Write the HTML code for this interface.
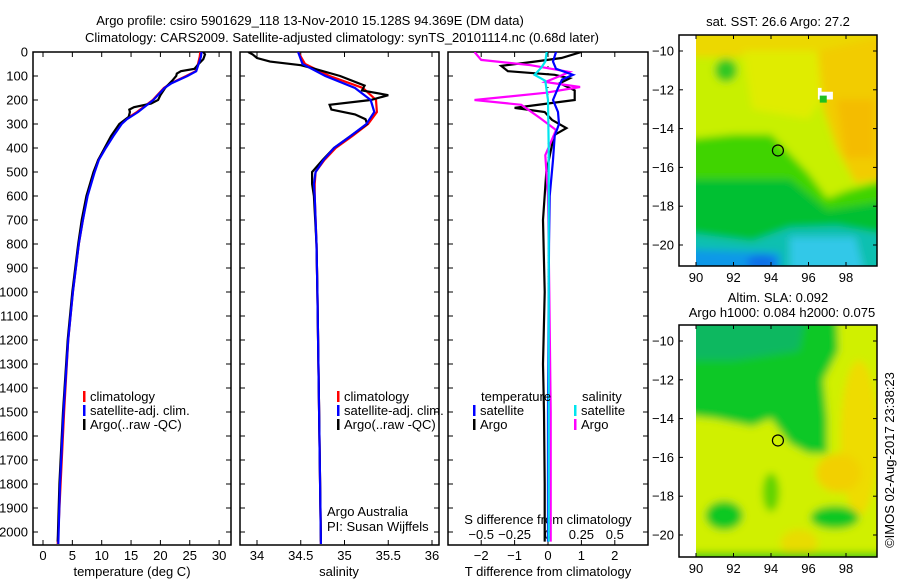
<!DOCTYPE html>
<html><head><meta charset="utf-8"><style>
body{margin:0;background:#fff;}
svg{display:block;font-family:"Liberation Sans",sans-serif;}
text{font-size:13px;fill:#000;}
</style></head><body>
<svg id="c" width="900" height="580" viewBox="0 0 900 580">
<defs>
<clipPath id="cp1"><rect x="33" y="52" width="198" height="493"/></clipPath>
<clipPath id="cp2"><rect x="240" y="52" width="199" height="493"/></clipPath>
<clipPath id="cp3"><rect x="448" y="52" width="200" height="493"/></clipPath>
<clipPath id="m1c"><rect x="696" y="35" width="181" height="231"/></clipPath>
<clipPath id="m2c"><rect x="696" y="325" width="181" height="232"/></clipPath>
<filter id="bl" x="-20%" y="-20%" width="140%" height="140%"><feGaussianBlur stdDeviation="4"/></filter>
</defs>
<text x="310" y="25" text-anchor="middle">Argo profile: csiro 5901629_118 13-Nov-2010 15.128S 94.369E (DM data)</text>
<text x="342" y="42" text-anchor="middle">Climatology: CARS2009. Satellite-adjusted climatology: synTS_20101114.nc (0.68d later)</text>
<g id="axes"></g>
<g id="maps"></g>
</svg>
<script>
// ---- data ----
const tempClimDepth=[0,20,50,80,100,130,150,200,250,280,300,350,400,450,500,600,700,800,1000,1200,1500,1800,2050];
const tempClim=[26.8,26.7,26.4,26.0,24.4,21.8,20.6,18.7,16.0,14.1,13.3,11.8,10.6,9.4,8.7,7.5,6.8,6.1,5.1,4.3,3.6,3.0,2.5];
const tempSat=[27.0,26.9,26.5,26.1,24.6,21.9,20.7,18.8,16.2,14.3,13.4,12.0,10.7,9.5,8.8,7.6,6.8,6.1,5.1,4.3,3.5,2.9,2.6];
const tempArgoDepth=[0,10,30,50,70,80,90,100,120,150,180,200,215,230,240,250,270,300,350,400,450,500,600,700,800,1000,1200,1500,1800,2040];
const tempArgo=[27.3,27.6,27.3,26.5,25.8,23.5,22.8,22.7,22.0,20.8,20.0,19.6,18.4,15.5,14.7,14.8,14.6,13.0,11.6,10.5,9.4,8.6,7.4,6.6,6.0,5.0,4.2,3.4,2.8,2.5];
const salClimDepth=[0,50,100,150,200,250,300,350,400,450,500,550,600,800,1000,1500,2050];
const salClim=[34.47,34.55,34.83,35.21,35.36,35.37,35.27,35.09,34.9,34.77,34.67,34.66,34.66,34.68,34.69,34.71,34.73];
const salSat=[34.47,34.52,34.78,35.12,35.30,35.34,35.25,35.07,34.88,34.76,34.67,34.65,34.66,34.68,34.69,34.71,34.73];
const salArgoDepth=[0,10,25,40,55,70,100,140,160,180,200,220,240,260,280,300,400,450,500,550,600,800,1000,1500,2040];
const salArgo=[33.9,33.95,34.0,34.15,34.5,34.66,34.95,35.23,35.2,35.5,35.3,34.83,34.85,35.12,35.24,35.26,34.88,34.75,34.63,34.63,34.65,34.68,34.69,34.71,34.73];
const tSatDiffDepth=[0,40,70,95,115,150,200,250,300,350,450,600,800,1000,1500,2040];
const tSatDiff=[0.24,0.15,0.24,0.75,0.42,0.3,0.15,0.3,0.33,0.2,0.15,0.05,0.03,0.02,0.0,0.0];
const tArgoDiffDepth=[0,25,40,58,80,95,110,130,160,200,233,250,283,317,345,387,500,700,1000,1300,1500,1800,2040];
const tArgoDiff=[1.0,0.4,-0.4,-1.4,-1.2,0.2,0.65,0.35,0.8,0.8,-1.0,-0.1,0.12,0.55,0.2,0.12,-0.05,-0.15,-0.1,-0.15,-0.12,-0.1,-0.1];
const sArgoDiffDepth=[0,33,55,83,100,125,146,170,200,220,275,325,430,600,1000,1500,2040];
const sArgoDiff=[-0.55,-0.5,-0.13,0.16,0.09,-0.02,0.24,-0.02,-0.55,-0.2,-0.06,0.06,-0.02,0.0,0.01,0.02,0.02];
const sSatDiffDepth=[0,40,65,95,120,200,400,1000,2040];
const sSatDiff=[-0.01,-0.02,-0.05,-0.1,-0.02,0.0,0.005,0.005,0.005];
const depthTicks=[0,100,200,300,400,500,600,700,800,900,1000,1100,1200,1300,1400,1500,1600,1700,1800,1900,2000];
const tempTicks=[0,5,10,15,20,25,30];
const salTicks=[34,34.5,35,35.5,36];
const tDiffTicks=[-2,-1,0,1,2];
const sDiffTicks=[-0.5,-0.25,0,0.25,0.5];
const sDiffTickLabels=["\u22120.5","\u22120.25","0","0.25","0.5"];
const tDiffTickLabels=["\u22122","\u22121","0","1","2"];
// ---- scales ----
const yD=d=>52+d*0.24;
const xT=t=>43+t*5.87;
const xS=s=>257+(s-34)*87.5;
const xTd=v=>548+v*33.4;
const xSd=v=>548+v*133.6;
const NS="http://www.w3.org/2000/svg";
const root=document.getElementById('axes');
function mk(tag,attrs,parent){const e=document.createElementNS(NS,tag);for(const k in attrs)e.setAttribute(k,attrs[k]);(parent||root).appendChild(e);return e;}
function txt(x,y,s,anchor,parent){const e=mk('text',{x:x,y:y,'text-anchor':anchor||'start'},parent);e.textContent=s;return e;}
const panels=[[33,231],[240,439],[448,648]];
panels.forEach((p,i)=>{
  const r=mk('rect',{x:p[0],y:52,width:p[1]-p[0],height:493,fill:'none',stroke:'#000','stroke-width':1.5});
  
  
  depthTicks.forEach(d=>{
    mk('line',{x1:p[0],x2:p[0]+5,y1:yD(d),y2:yD(d),stroke:'#000'});
    mk('line',{x1:p[1]-5,x2:p[1],y1:yD(d),y2:yD(d),stroke:'#000'});
  });
});
depthTicks.forEach(d=>{
  const t=txt(28,yD(d)+4.5,String(d),'end');
  
  
});
function xticks(vals,labels,fx,ylab){
  vals.forEach((v,i)=>{
    mk('line',{x1:fx(v),x2:fx(v),y1:545,y2:540,stroke:'#000'});
    mk('line',{x1:fx(v),x2:fx(v),y1:52,y2:57,stroke:'#000'});
    const t=txt(fx(v),ylab,labels[i],'middle');
    
    
  });
}
xticks(tempTicks,tempTicks.map(String),xT,560);
xticks(salTicks,salTicks.map(String),xS,560);
xticks(tDiffTicks,tDiffTickLabels,xTd,560);
sDiffTicks.forEach((v,i)=>{
  const t=txt(xSd(v),539,sDiffTickLabels[i],'middle');
  
  
});
let a;
a=txt(132,576,'temperature (deg C)','middle');
a=txt(339,576,'salinity','middle');
a=txt(548,576,'T difference from climatology','middle');
a=txt(548,524,'S difference from climatology','middle');
const zl=mk('line',{x1:548,x2:548,y1:yD(0),y2:yD(2000),stroke:'#000','stroke-dasharray':'1 6','stroke-width':1});


function series(depths,vals,fx,color,clip,name){
  const pts=depths.map((d,i)=>fx(vals[i]).toFixed(1)+','+yD(d).toFixed(1)).join(' ');
  const e=mk('polyline',{points:pts,fill:'none',stroke:color,'stroke-width':2.2,'clip-path':'url(#'+clip+')'});
  
  
}
series(tempClimDepth,tempClim,xT,'#ff0000','cp1','temp-climatology-line');
series(tempArgoDepth,tempArgo,xT,'#000000','cp1','temp-argo-line');
series(tempClimDepth,tempSat,xT,'#0000ff','cp1','temp-satellite-line');
series(salClimDepth,salClim,xS,'#ff0000','cp2','sal-climatology-line');
series(salArgoDepth,salArgo,xS,'#000000','cp2','sal-argo-line');
series(salClimDepth,salSat,xS,'#0000ff','cp2','sal-satellite-line');
series(tArgoDiffDepth,tArgoDiff,xTd,'#000000','cp3','t-diff-argo-line');
series(sArgoDiffDepth,sArgoDiff,xSd,'#ff00ff','cp3','s-diff-argo-line');
series(tSatDiffDepth,tSatDiff,xTd,'#0000ff','cp3','t-diff-satellite-line');
series(sSatDiffDepth,sSatDiff,xSd,'#00e5ee','cp3','s-diff-satellite-line');
function legend(x,y,color,label){
  const g=mk('g',{});
  
  
  mk('rect',{x:x,y:y-10,width:2.5,height:11,fill:color},g);
  txt(x+7,y,label,'start',g);
}
legend(83,401,'#ff0000','climatology');
legend(83,415,'#0000ff','satellite-adj. clim.');
legend(83,429,'#000000','Argo(..raw -QC)');
legend(337,401,'#ff0000','climatology');
legend(337,415,'#0000ff','satellite-adj. clim.');
legend(337,429,'#000000','Argo(..raw -QC)');
a=txt(481,401,'temperature');
legend(473,415,'#0000ff','satellite');
legend(473,429,'#000000','Argo');
a=txt(582,401,'salinity');
legend(574,415,'#00e5ee','satellite');
legend(574,429,'#ff00ff','Argo');
a=txt(327,516,'Argo Australia');
a=txt(327,531,'PI: Susan Wijffels');

// ---- maps ----
const M=document.getElementById('maps');
const lonX=l=>696+(l-90)*18.75;
function mapAxes(top,bottom,y10){
  mk('rect',{x:679,y:top,width:198,height:bottom-top,fill:'none',stroke:'#000','stroke-width':1.5},M);
  [90,92,94,96,98].forEach(l=>{
    mk('line',{x1:lonX(l),x2:lonX(l),y1:top,y2:top+4,stroke:'#000'},M);
    mk('line',{x1:lonX(l),x2:lonX(l),y1:bottom,y2:bottom-4,stroke:'#000'},M);
    txt(lonX(l),bottom+16,String(l),'middle',M);
  });
  [10,12,14,16,18,20].forEach(s=>{
    const y=y10+(s-10)*19.4;
    mk('line',{x1:877,x2:873,y1:y,y2:y,stroke:'#000'},M);
    mk('line',{x1:679,x2:683,y1:y,y2:y,stroke:'#000'},M);
    txt(674,y+4.5,'\u2212'+s,'end',M);
  });
}
function poly(pts,y10,fill,parent){
  const p=pts.map(q=>lonX(q[0]).toFixed(1)+','+(y10+(q[1]-10)*19.4).toFixed(1)).join(' ');
  mk('polygon',{points:p,fill:fill},parent);
}
function ell(lon,s,rx,ry,y10,fill,parent){
  mk('ellipse',{cx:lonX(lon),cy:y10+(s-10)*19.4,rx:rx*18.75,ry:ry*19.4,fill:fill},parent);
}
// map 1
let g1=mk('g',{'clip-path':'url(#m1c)'},M);


let y1=51;
let b1=mk('g',{filter:'url(#bl)'},g1);
poly([[89,8],[101,8],[101,23],[89,23]],y1,'#c8f000',b1);
poly([[89,8],[101,8],[101,10.3],[89,10.3]],y1,'#ecd800',b1);
poly([[92.5,10],[96.5,10],[97,12],[96,13.5],[93,13]],y1,'#e0ec00',b1);
poly([[96.5,10],[101,9],[101,16.5],[98.5,16.8],[97.5,15],[96.8,13]],y1,'#f2cc00',b1);
poly([[97.5,12.5],[99.5,12.5],[99.5,15.5],[98,15.5]],y1,'#f4bc00',b1);
poly([[89,14.6],[92,14.3],[94,14.3],[95,15.3],[96,16.3],[97,17.6],[98,17.2],[101,16.4],[101,23],[89,23]],y1,'#40d400',b1);
poly([[89,16.6],[95,16.6],[97,18.2],[101,17.6],[101,23],[89,23]],y1,'#00c030',b1);
ell(91.6,11,0.6,0.6,y1,'#30c820',b1);
poly([[89,19.3],[93,19.8],[95,19.1],[97.5,19],[101,19.6],[101,23],[89,23]],y1,'#10c0b0',b1);
poly([[95,19.6],[98.5,19.6],[99,21.5],[95,21.5]],y1,'#30c8e8',b1);
poly([[89,20.2],[94.5,20.4],[94.5,23],[89,23]],y1,'#1098e8',b1);
ell(93.5,20.9,0.8,0.4,y1,'#1070e8',b1);
poly([[96.5,11.9],[96.7,11.9],[96.7,12.1],[97.3,12.1],[97.3,12.5],[96.5,12.5]],y1,'#ffffff',g1);
mk('rect',{x:lonX(96.6),y:y1+(12.3-10)*19.4,width:7,height:7,fill:'#20c020'},g1);
mk('circle',{cx:lonX(94.369),cy:y1+(15.128-10)*19.4,r:5.5,fill:'none',stroke:'#000','stroke-width':1.2},g1);
mapAxes(35,266,y1);
a=txt(778,26,'sat. SST: 26.6 Argo: 27.2','middle',M);
// map 2
let g2=mk('g',{'clip-path':'url(#m2c)'},M);


let y2=341;
let b2=mk('g',{filter:'url(#bl)'},g2);
poly([[89,8],[101,8],[101,23],[89,23]],y2,'#d0f000',b2);
poly([[89,8],[97.5,8],[97.6,10.5],[96.8,12],[97,14],[97,15.8],[96,15.8],[95,15.3],[94,14],[93,14.4],[91,14],[89,13.8]],y2,'#10c828',b2);
poly([[89,8],[96,8],[95.5,10.5],[92,11],[89,11]],y2,'#10b860',b2);
ell(98.7,15,1.0,4,y2,'#eedc00',b2);
ell(97.6,16.8,1.2,1.0,y2,'#f2d000',b2);
ell(91.5,19,1.0,0.75,y2,'#10c820',b2);
ell(97.4,19.1,1.3,0.6,y2,'#10c820',b2);
ell(94,17.8,0.45,1.0,y2,'#60d400',b2);
ell(95.5,20.4,1.0,0.7,y2,'#e8dc00',b2);
poly([[89,20.9],[101,20.9],[101,23],[89,23]],y2,'#40cc10',b2);
mk('circle',{cx:lonX(94.369),cy:y2+(15.128-10)*19.4,r:5.5,fill:'none',stroke:'#000','stroke-width':1.2},g2);
mapAxes(325,557,y2);
a=txt(778,302,'Altim. SLA: 0.092','middle',M);
a=txt(782,317,'Argo h1000: 0.084 h2000: 0.075','middle',M);
a=txt(0,0,'\u00a9IMOS 02-Aug-2017 23:38:23','middle',M);
a.setAttribute('transform','translate(894,460) rotate(-90)');

</script>
</body></html>
